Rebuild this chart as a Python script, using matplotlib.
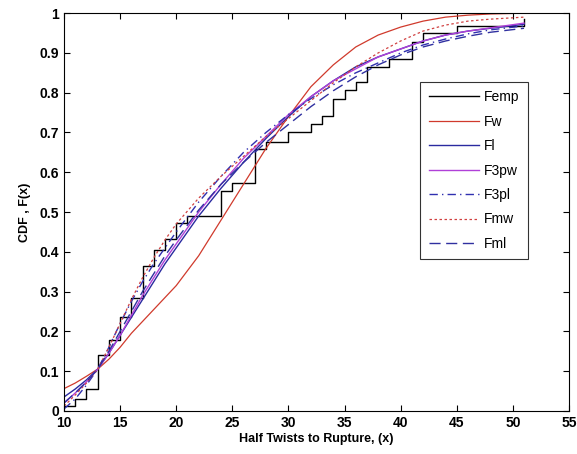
import matplotlib
matplotlib.use("Agg")
import matplotlib.pyplot as plt

# empirical CDF (step function)
emp_x = [10, 11, 12, 13, 14, 15, 16, 17, 18, 19, 20, 21, 24, 25, 27, 28, 30, 32, 33, 34,
         35, 36, 37, 39, 41, 42, 45, 51]
emp_y = [0.013, 0.03, 0.054, 0.14, 0.178, 0.237, 0.283, 0.365, 0.405, 0.432, 0.472, 0.491,
         0.553, 0.573, 0.658, 0.677, 0.70, 0.721, 0.741, 0.785, 0.806, 0.827, 0.865, 0.886,
         0.928, 0.95, 0.967, 0.985]

# fitted curves
fit_x = [10, 11, 12, 13, 14, 15, 16, 17, 18, 19, 20, 22, 24, 26, 28, 30, 32, 34, 36, 38,
         40, 42, 44, 46, 48, 51]
fw = [0.056, 0.07, 0.087, 0.105, 0.13, 0.16, 0.195, 0.225, 0.255, 0.285, 0.315, 0.39,
      0.48, 0.57, 0.66, 0.74, 0.815, 0.87, 0.915, 0.945, 0.965, 0.98, 0.99, 0.995, 0.998, 1.0]
fl = [0.035, 0.055, 0.078, 0.105, 0.145, 0.19, 0.235, 0.28, 0.325, 0.37, 0.41, 0.49,
      0.56, 0.625, 0.685, 0.74, 0.79, 0.83, 0.865, 0.89, 0.91, 0.93, 0.945, 0.955, 0.962, 0.972]
f3pw = [0.02, 0.045, 0.073, 0.105, 0.145, 0.19, 0.24, 0.29, 0.335, 0.38, 0.42, 0.5,
        0.57, 0.635, 0.69, 0.745, 0.79, 0.83, 0.86, 0.89, 0.91, 0.93, 0.945, 0.955, 0.963, 0.975]
f3pl = [0.005, 0.03, 0.065, 0.105, 0.16, 0.22, 0.275, 0.325, 0.37, 0.41, 0.45, 0.525,
        0.59, 0.65, 0.7, 0.745, 0.785, 0.82, 0.85, 0.875, 0.9, 0.92, 0.935, 0.948, 0.958, 0.968]
fmw = [0.012, 0.04, 0.07, 0.105, 0.16, 0.22, 0.28, 0.335, 0.385, 0.43, 0.47, 0.535,
       0.59, 0.64, 0.69, 0.735, 0.78, 0.825, 0.865, 0.9, 0.93, 0.955, 0.97, 0.98, 0.985, 0.99]
fml = [0.02, 0.045, 0.073, 0.105, 0.15, 0.2, 0.25, 0.3, 0.345, 0.39, 0.43, 0.505,
       0.57, 0.625, 0.675, 0.72, 0.765, 0.805, 0.84, 0.87, 0.895, 0.915, 0.93, 0.942, 0.952, 0.962]

plt.rcParams['font.family'] = ['Liberation Sans', 'DejaVu Sans']

fig = plt.figure(figsize=(5.77, 4.54), dpi=100)
ax = fig.add_axes([0.111, 0.095, 0.875, 0.876])

ax.plot(emp_x, emp_y, color='black', lw=1.0, drawstyle='steps-post', label='Femp')
ax.plot(fit_x, fw, color='#d03a2c', lw=0.9, label='Fw')
ax.plot(fit_x, fl, color='#2a2aa0', lw=1.0, label='Fl')
ax.plot(fit_x, f3pw, color='#b040d8', lw=1.0, label='F3pw')
ax.plot(fit_x, f3pl, color='#3030b0', lw=1.0, ls=(0, (6, 3, 1, 3)), label='F3pl')
ax.plot(fit_x, fmw, color='#d04040', lw=0.9, ls=(0, (2, 2)), label='Fmw')
ax.plot(fit_x, fml, color='#3030a0', lw=1.0, ls=(0, (8, 4)), label='Fml')

ax.set_xlim(10, 55)
ax.set_ylim(0, 1)
ax.set_xticks(range(10, 56, 5))
ax.set_yticks([i / 10 for i in range(11)])
ax.set_yticklabels(['0'] + ['0.%d' % i for i in range(1, 10)] + ['1'])
ax.tick_params(direction='in', top=True, right=True, length=4, width=0.8)
for lab in ax.get_xticklabels() + ax.get_yticklabels():
    lab.set_fontweight('bold')
    lab.set_fontsize(10)

ax.set_xlabel('Half Twists to Rupture, (x)', fontweight='bold', fontsize=9, labelpad=2)
ax.set_ylabel('CDF , F(x)', fontweight='bold', fontsize=9, labelpad=6)

leg = ax.legend(loc='upper right', bbox_to_anchor=(0.919, 0.827), borderaxespad=0,
                fontsize=10, handlelength=3.6, frameon=True, fancybox=False,
                edgecolor='black', borderpad=0.6, labelspacing=0.75, handletextpad=0.4)
leg.get_frame().set_linewidth(0.8)

fig.savefig('out.png', dpi=100)
